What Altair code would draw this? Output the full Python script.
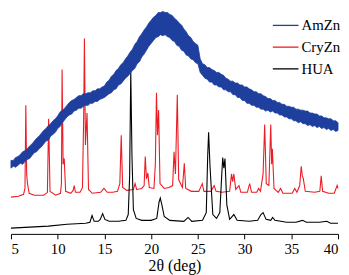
import altair as alt
import pandas as pd

# ---- AmZn (amorphous, noisy broad hump): lower / upper edge of the noise band ----
amzn_x = [5.0, 5.25, 5.5, 5.75, 6.0, 6.25, 6.5, 6.75, 7.0, 7.25, 7.5, 7.75, 8.0, 8.25,
          8.5, 8.75, 9.0, 9.25, 9.5, 9.75, 10.0, 10.25, 10.5, 10.75, 11.0, 11.25, 11.5,
          11.75, 12.0, 12.25, 12.5, 12.75, 13.0, 13.25, 13.5, 13.75, 14.0, 14.25, 14.5,
          14.75, 15.0, 15.25, 15.5, 15.75, 16.0, 16.25, 16.5, 16.75, 17.0, 17.25, 17.5,
          17.75, 18.0, 18.25, 18.5, 18.75, 19.0, 19.25, 19.5, 19.75, 20.0, 20.25, 20.5,
          20.75, 21.0, 21.25, 21.5, 21.75, 22.0, 22.25, 22.5, 22.75, 23.0, 23.25, 23.5,
          23.75, 24.0, 24.25, 24.5, 24.75, 25.0, 25.25, 25.5, 25.75, 26.0, 26.25, 26.5,
          26.75, 27.0, 27.25, 27.5, 27.75, 28.0, 28.25, 28.5, 28.75, 29.0, 29.25, 29.5,
          29.75, 30.0, 30.25, 30.5, 30.75, 31.0, 31.25, 31.5, 31.75, 32.0, 32.25, 32.5,
          32.75, 33.0, 33.25, 33.5, 33.75, 34.0, 34.25, 34.5, 34.75, 35.0, 35.25, 35.5,
          35.75, 36.0, 36.25, 36.5, 36.75, 37.0, 37.25, 37.5, 37.75, 38.0, 38.25, 38.5,
          38.75, 39.0, 39.25, 39.5, 39.75, 40.0]
amzn_lo = [68, 70, 69, 71, 73, 72, 75, 77, 78, 81, 84, 85, 88, 90,
           93, 96, 97, 101, 103, 105, 109, 111, 115, 118, 121, 123, 124,
           127, 128, 130, 130, 132, 133, 133, 135, 135, 137, 137, 139,
           140, 141, 143, 145, 146, 149, 150, 154, 155, 158, 161, 163,
           166, 169, 171, 176, 178, 183, 186, 190, 194, 197, 200, 203,
           204, 206, 205, 206, 204, 203, 200, 199, 195, 194, 190, 189,
           185, 184, 181, 180, 177, 176, 167, 164, 161, 160, 157, 157,
           154, 154, 152, 152, 149, 149, 147, 147, 144, 144, 141, 141,
           138, 138, 135, 135, 133, 133, 131, 131, 129, 129, 127, 128,
           126, 127, 125, 125, 123, 123, 121, 121, 119, 119, 117, 117,
           115, 116, 114, 114, 112, 113, 111, 112, 110, 111, 109, 110,
           108, 109, 107, 108, 106, 107]
amzn_hi = [76, 76, 79, 80, 82, 85, 86, 88, 91, 93, 96, 99, 101, 104,
           107, 109, 112, 114, 117, 119, 122, 126, 128, 130, 133, 136, 138,
           139, 141, 143, 143, 145, 145, 146, 146, 148, 148, 150, 150,
           152, 153, 157, 159, 163, 165, 169, 171, 175, 177, 181, 184,
           188, 191, 196, 199, 204, 207, 211, 214, 218, 221, 224, 226,
           229, 229, 230, 229, 229, 227, 226, 223, 221, 218, 216, 212,
           209, 205, 203, 199, 197, 195, 181, 176, 175, 172, 172, 170,
           169, 167, 167, 165, 164, 161, 160, 158, 158, 156, 156, 154,
           154, 152, 152, 150, 149, 147, 147, 145, 145, 143, 142, 140,
           140, 138, 138, 136, 136, 134, 134, 132, 132, 131, 131, 129,
           129, 128, 128, 127, 127, 125, 125, 124, 124, 122, 122, 120,
           120, 119, 119, 117, 117, 115]

# ---- CryZn (crystalline) ----
cry_x = [5.0, 5.8, 6.35, 6.5, 6.59, 6.68, 6.77, 6.95, 7.5, 8.5, 8.9, 9.03, 9.18, 9.8,
         10.3, 10.4, 10.47, 10.58, 10.7, 10.85, 11.4, 11.65, 11.77, 11.9, 12.4, 12.65,
         12.78, 12.86, 12.97, 13.14, 13.3, 13.7, 14.6, 14.95, 15.3, 15.9, 16.4, 16.65,
         16.8, 16.95, 17.4, 18.1, 18.28, 18.45, 19.0, 19.25, 19.37, 19.5, 19.65, 19.8,
         20.3, 20.45, 20.57, 20.68, 20.8, 20.95, 21.4, 21.9, 22.3, 22.45, 22.6, 22.8,
         22.95, 23.35, 23.55, 23.7, 24.3, 25.1, 25.47, 25.65, 26.4, 26.74, 26.95, 27.6,
         28.4, 28.6, 28.72, 28.85, 29.05, 29.4, 29.6, 30.3, 30.54, 30.75, 31.3, 31.5,
         31.7, 31.98, 32.15, 32.32, 32.6, 32.8, 32.9, 32.97, 33.15, 33.6, 33.85, 34.1,
         35.1, 35.37, 35.6, 35.9, 36.06, 36.18, 36.27, 36.5, 37.5, 38.05, 38.2, 38.35,
         39.0, 39.6, 39.9, 40.0]
cry_y = [38, 39, 41, 47, 133, 62, 52, 42, 40, 40, 43, 119, 44, 40,
         42, 52, 170, 72, 78, 44, 42, 45, 50, 43, 43, 48,
         120, 202, 92, 125, 46, 42, 43, 47, 43, 43, 44, 52,
         102, 48, 45, 46, 52, 46, 47, 50, 80, 57, 63, 48,
         47, 72, 146, 102, 128, 52, 47, 48, 50, 85, 62, 144,
         56, 48, 73, 47, 44, 44, 52, 44, 44, 50, 44, 43,
         44, 62, 54, 62, 46, 50, 43, 43, 52, 43, 43, 47,
         44, 62, 113, 52, 50, 113, 72, 88, 47, 43, 47, 42,
         42, 47, 43, 50, 70, 60, 58, 44, 43, 44, 60, 44,
         42, 42, 50, 47]

# ---- HUA ----
hua_x = [5.0, 7.0, 9.0, 11.0, 13.0, 13.45, 13.68, 13.9, 14.35, 14.55, 14.81, 15.05,
         15.5, 16.5, 17.3, 17.55, 17.7, 17.82, 17.95, 18.1, 18.4, 19.0, 20.0, 20.6,
         20.85, 20.98, 21.15, 21.4, 22.0, 23.5, 23.95, 24.35, 25.5, 25.9, 26.05,
         26.15, 26.3, 26.6, 27.0, 27.35, 27.55, 27.66, 27.78, 27.9, 28.1, 28.4, 28.85,
         29.2, 30.5, 31.4, 31.75, 31.98, 32.3, 32.8, 33.0, 33.25, 34.5, 35.5, 36.2,
         36.6, 38.0, 38.8, 39.2, 40.0]
hua_y = [6, 7, 8, 10, 11, 12, 19, 13, 13, 15, 21, 15,
         13, 13, 14, 20, 60, 168, 80, 25, 16, 14, 14, 16,
         33, 37, 30, 18, 14, 13, 17, 13, 14, 22, 80,
         105, 70, 20, 16, 22, 60, 79, 68, 78, 30, 15, 20,
         14, 13, 14, 20, 22, 15, 14, 17, 14, 12, 12, 14,
         12, 12, 13, 11, 11]

series_names = ["AmZn", "CryZn", "HUA"]
series_colors = ["#1f3f9f", "#ec1c24", "#000000"]
x_ticks = [5, 7.5, 10, 12.5, 15, 17.5, 20, 22.5, 25, 27.5, 30, 32.5, 35, 37.5, 40]

amzn_mid = [(a + b) / 2 for a, b in zip(amzn_lo, amzn_hi)]
line_df = pd.concat([
    pd.DataFrame({"x": amzn_x, "y": amzn_mid, "series": "AmZn"}),
    pd.DataFrame({"x": cry_x, "y": cry_y, "series": "CryZn"}),
    pd.DataFrame({"x": hua_x, "y": hua_y, "series": "HUA"}),
], ignore_index=True)
band_df = pd.DataFrame({"x": amzn_x, "lo": amzn_lo, "hi": amzn_hi})

serif = "Liberation Serif, Times New Roman, DejaVu Serif, serif"
xscale = alt.Scale(domain=[5, 40], nice=False)
yscale = alt.Scale(domain=[0, 232], nice=False)

xaxis = alt.Axis(
    values=x_ticks,
    labelExpr="datum.value % 5 == 0 ? datum.label : ''",
    tickSize={"condition": {"test": "datum.value % 5 != 0", "value": 3}, "value": 5},
    title="2θ (deg)", grid=False,
    domainColor="black", tickColor="black", domainWidth=1, tickWidth=1,
    labelFont=serif, labelFontSize=15, labelColor="black", labelPadding=3,
    labelOverlap=False, labelFlush=True,
    titleFont=serif, titleFontSize=16, titleFontWeight="normal",
    titleColor="black", titlePadding=1,
)

lines = alt.Chart(line_df).mark_line(strokeWidth=1.1).encode(
    x=alt.X("x:Q", scale=xscale, axis=xaxis),
    y=alt.Y("y:Q", scale=yscale, axis=None),
    color=alt.Color(
        "series:N",
        scale=alt.Scale(domain=series_names, range=series_colors),
        legend=alt.Legend(
            title=None, orient="none", legendX=264, legendY=2,
            symbolType="stroke", symbolSize=676, symbolStrokeWidth=1.3,
            labelFont=serif, labelFontSize=15, labelColor="black",
            rowPadding=0, labelOffset=2, padding=0,
        ),
    ),
)

band = alt.Chart(band_df).mark_area(color=series_colors[0], opacity=1,
                                    strokeWidth=0.8, stroke=series_colors[0]).encode(
    x=alt.X("x:Q", scale=xscale),
    y=alt.Y("lo:Q", scale=yscale),
    y2="hi:Q",
)

chart = alt.layer(lines, band).properties(
    width=331, height=227, padding=0
).configure(font=serif).configure_view(stroke=None)

chart.save("out.html", embed_options={"renderer": "svg", "actions": False})
